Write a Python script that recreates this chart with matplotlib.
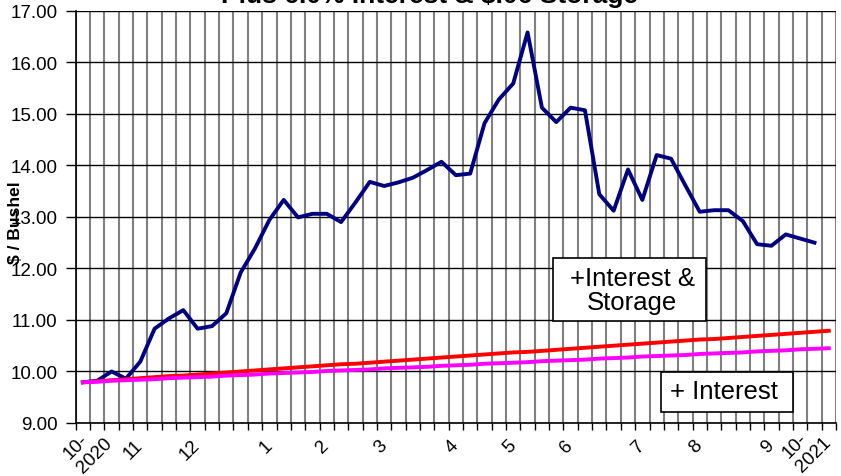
import matplotlib.pyplot as plt
import matplotlib.transforms as mtransforms
from matplotlib.patches import Rectangle
import numpy as np

plt.rcParams['font.family'] = ['Liberation Sans', 'DejaVu Sans']

# Weekly prices, Oct 2020 - Oct 2021 ($ / bushel)
cash = [9.79, 9.82, 10.00, 9.86, 10.19, 10.83, 11.03, 11.19, 10.83, 10.88,
        11.13, 11.92, 12.39, 12.94, 13.33, 12.99, 13.06, 13.06, 12.90, 13.28,
        13.68, 13.60, 13.67, 13.76, 13.91, 14.07, 13.81, 13.84, 14.82, 15.28,
        15.59, 16.58, 15.12, 14.84, 15.12, 15.07, 13.44, 13.12, 13.92, 13.33,
        14.20, 14.13, 13.61, 13.10, 13.13, 13.13, 12.92, 12.47, 12.44, 12.66,
        12.58, 12.50]

int_storage = [9.79, 9.81, 9.83, 9.85, 9.87, 9.89, 9.91, 9.92, 9.94, 9.96,
               9.98, 10.00, 10.02, 10.04, 10.06, 10.08, 10.10, 10.12, 10.14, 10.15,
               10.17, 10.19, 10.21, 10.23, 10.25, 10.27, 10.29, 10.31, 10.33, 10.35,
               10.37, 10.38, 10.40, 10.42, 10.44, 10.46, 10.48, 10.50, 10.52, 10.54,
               10.56, 10.58, 10.60, 10.62, 10.63, 10.65, 10.67, 10.69, 10.71, 10.73,
               10.75, 10.77, 10.79]

interest = [9.79, 9.80, 9.82, 9.83, 9.84, 9.85, 9.87, 9.88, 9.89, 9.90,
            9.92, 9.93, 9.94, 9.96, 9.97, 9.98, 9.99, 10.01, 10.02, 10.03,
            10.04, 10.06, 10.07, 10.08, 10.09, 10.11, 10.12, 10.13, 10.15, 10.16,
            10.17, 10.18, 10.20, 10.21, 10.22, 10.23, 10.25, 10.26, 10.27, 10.29,
            10.30, 10.31, 10.32, 10.34, 10.35, 10.36, 10.37, 10.39, 10.40, 10.41,
            10.43, 10.44, 10.45]

n_weeks = 53
month_pos = [0, 4, 8, 13, 17, 21, 26, 30, 34, 39, 43, 48, 52]
month_lbl = ['10-\n2020', '11', '12', '1', '2', '3', '4', '5', '6', '7', '8', '9', '10-\n2021']

W, H = 841, 477
fig = plt.figure(figsize=(W / 100, H / 100), dpi=100)
ax = fig.add_axes([75.7/W, 1 - 424/H, (836 - 75.7)/W, (424 - 11.8)/H])

ax.plot(np.arange(len(cash)), cash, color='#000080', lw=2.8, zorder=3)
ax.plot(np.arange(len(int_storage)), int_storage, color='#FF0000', lw=2.8, zorder=4)
ax.plot(np.arange(len(interest)), interest, color='#FF00FF', lw=2.8, zorder=5)

ax.set_xlim(-0.5, n_weeks - 0.5)
ax.set_ylim(9, 17)
ax.set_yticks(np.arange(9, 18, 1))
ax.set_yticklabels(['%.2f' % v for v in np.arange(9, 18, 1)], fontsize=13.5)

# weekly boundaries: gray gridlines + tick marks
ax.set_xticks(np.arange(-0.5, n_weeks, 1))
ax.set_xticklabels([])
ax.grid(axis='x', color='#808080', lw=1.5)
ax.grid(axis='y', color='black', lw=1)
ax.set_axisbelow(True)
ax.tick_params(axis='x', which='major', direction='out', length=5, width=1)
ax.tick_params(axis='y', direction='out', length=7, width=1, pad=6)

ax.set_xticks(month_pos, month_lbl, minor=True)
ax.tick_params(axis='x', which='minor', length=0, pad=14, labelsize=13.5)
labels = ax.get_xticklabels(minor=True)
for t in labels:
    t.set_rotation(45)
    t.set_ha('right')
    t.set_va('center')
    t.set_rotation_mode('anchor')
    t.set_multialignment('left')
# nudge the two year labels like the original
labels[0].set_transform(labels[0].get_transform() +
                        mtransforms.ScaledTranslation(20/100, 9/100, fig.dpi_scale_trans))
labels[-1].set_transform(labels[-1].get_transform() +
                         mtransforms.ScaledTranslation(-7/100, 10/100, fig.dpi_scale_trans))

for s in ['top', 'right']:
    ax.spines[s].set_visible(False)
for s in ['left', 'bottom']:
    ax.spines[s].set_linewidth(1.2)

fig.text(0.5107, 1 - 3/H, 'Plus 6.0% Interest & $.06 Storage', ha='center',
         va='baseline', fontsize=19, fontweight='bold')
fig.text(16/W, 1 - 223/H, '$ / Bushel', rotation=90, ha='center', va='center',
         fontsize=12.5, fontweight='bold')

# label boxes
fig.add_artist(Rectangle((553/W, 1 - 322/H), 153/W, 63/H, transform=fig.transFigure,
                         fc='white', ec='black', lw=1.2, zorder=6))
fig.text(632/W, 1 - 291/H, '+Interest &\nStorage', fontsize=18.5, ha='center',
         va='center', linespacing=1.05, zorder=7)
fig.add_artist(Rectangle((661/W, 1 - 412.7/H), 132/W, 40/H, transform=fig.transFigure,
                         fc='white', ec='black', lw=1.2, zorder=6))
fig.text(724/W, 1 - 392/H, '+ Interest', fontsize=18.5, ha='center', va='center', zorder=7)

fig.savefig('out.png', dpi=100)
